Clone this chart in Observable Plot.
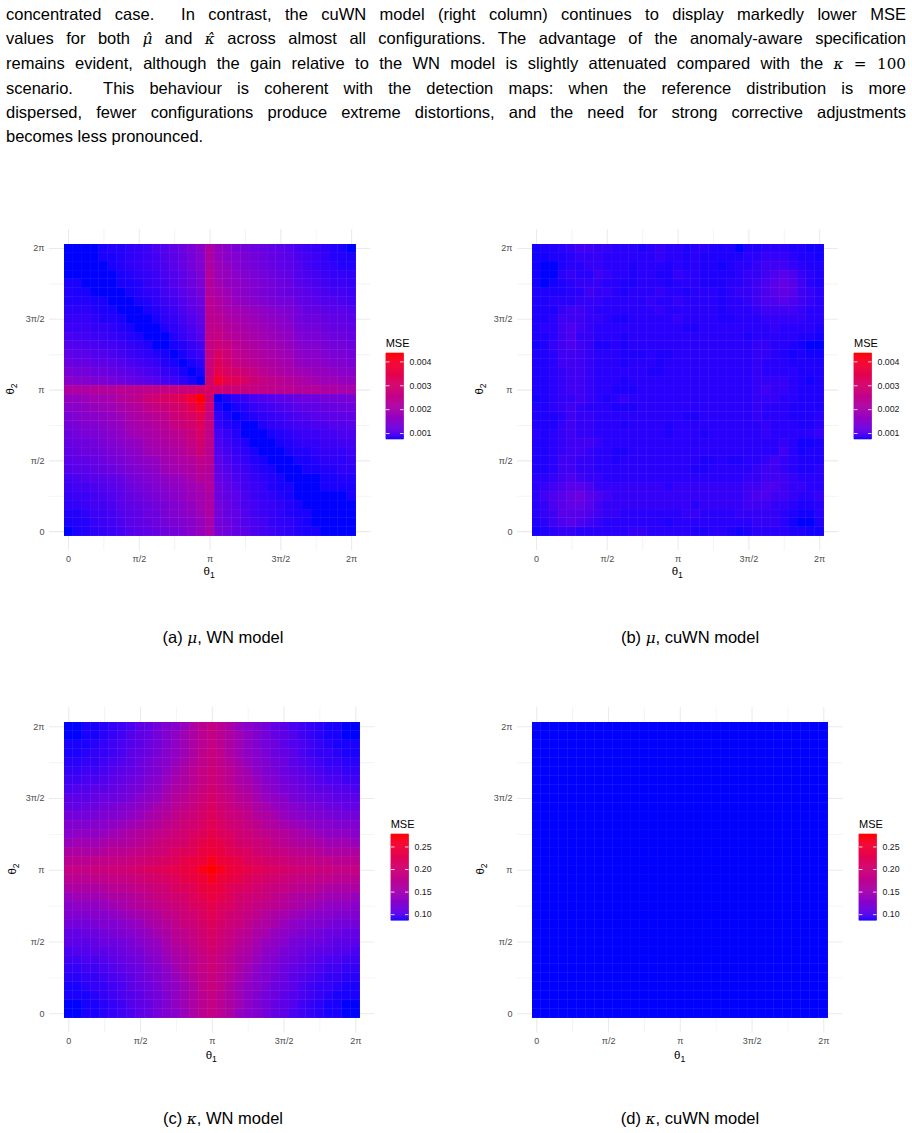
<!DOCTYPE html>
<html>
<head>
<meta charset="utf-8">
<script src="https://cdn.jsdelivr.net/npm/d3@7"></script>
<script src="https://cdn.jsdelivr.net/npm/@observablehq/plot@0.6"></script>
<style>
html,body{margin:0;padding:0;background:#fff;}
#page{position:relative;width:912px;height:1133px;overflow:hidden;font-family:"Liberation Sans",Arial,Helvetica,sans-serif;color:#000;}
#para{position:absolute;left:6px;top:3px;width:900px;font-size:16.5px;line-height:23.9px;}
#para .ln{text-align:justify;text-align-last:justify;}
#para .ln.last{text-align-last:left;}
.m{font-family:"DejaVu Serif","Liberation Serif",serif;font-style:italic;font-size:0.92em;}
.mr{font-family:"DejaVu Serif","Liberation Serif",serif;font-size:0.92em;}
.cap{position:absolute;font-size:16.5px;line-height:1;white-space:nowrap;transform:translateX(-50%);}
.atitle{position:absolute;font-size:11.5px;line-height:1;white-space:nowrap;transform:translate(-50%,-50%);}
.atitle.rot{transform:translate(-50%,-50%) rotate(-90deg);}
.ltitle{position:absolute;font-size:11px;line-height:1;white-space:nowrap;}
#page svg{position:absolute;}
</style>
</head>
<body>
<div id="page">
  <div id="para">
    <div class="ln">concentrated case.&nbsp; In contrast, the cuWN model (right column) continues to display markedly lower MSE</div>
    <div class="ln">values for both <span class="m">μ̂</span> and <span class="m">κ̂</span> across almost all configurations. The advantage of the anomaly-aware specification</div>
    <div class="ln">remains evident, although the gain relative to the WN model is slightly attenuated compared with the <span class="m">κ</span> <span class="mr">= 100</span></div>
    <div class="ln">scenario.&nbsp; This behaviour is coherent with the detection maps: when the reference distribution is more</div>
    <div class="ln">dispersed, fewer configurations produce extreme distortions, and the need for strong corrective adjustments</div>
    <div class="ln last">becomes less pronounced.</div>
  </div>
</div>
<script>
// ---------------- data ----------------
// angular grid (33 x 33 configurations, step 2π/32)
const thetaGrid = d3.range(33).map(k => k * Math.PI / 16);
const tickValues = [0, Math.PI / 2, Math.PI, 3 * Math.PI / 2, 2 * Math.PI];
const tickLabels = ["0", "π/2", "π", "3π/2", "2π"];
const minorValues = [Math.PI / 4, 3 * Math.PI / 4, 5 * Math.PI / 4, 7 * Math.PI / 4];

// colour-bar limits
const muLimits = [0.00075, 0.00435];
const kappaLimits = [0.0866, 0.2776];
const muLegendTicks = [0.001, 0.002, 0.003, 0.004];
const kappaLegendTicks = [0.10, 0.15, 0.20, 0.25];

// codebooks: MSE value of each base-36 code used in the maps below
const muWNCodes = [0.00075, 0.00075, 0.000781, 0.000801, 0.000832, 0.000853, 0.000884, 0.000925,
  0.000966, 0.001007, 0.001059, 0.001110, 0.001161, 0.001223, 0.001295, 0.001367, 0.001449,
  0.001532, 0.001624, 0.001717, 0.001820, 0.001923, 0.002025, 0.002139, 0.002262, 0.002385,
  0.002509, 0.002643, 0.002787, 0.002941, 0.003106, 0.003280, 0.003476, 0.003692, 0.003939, 0.004350];
const muCuWNCodes = [0.00075, 0.000771, 0.000791, 0.000812, 0.000853, 0.000904, 0.000976, 0.001048,
  0.001120, 0.001192];
const kappaWNCodes = [0.0866, 0.0882, 0.0901, 0.0923, 0.0948, 0.0978, 0.1008, 0.1043, 0.1076, 0.1114,
  0.1152, 0.1191, 0.1234, 0.1278, 0.1333, 0.1393, 0.1458, 0.1526, 0.1595, 0.1665, 0.1734, 0.1799,
  0.1859, 0.1914, 0.1968, 0.2023, 0.2077, 0.2140, 0.2206, 0.2271, 0.2342, 0.2413, 0.2484, 0.2571,
  0.2667, 0.2776];
const kappaCuWNCodes = [0.0866];

// MSE maps: one string per row (top row θ2 = 2π first, left cell θ1 = 0), one code per cell
const mseMuWN = [
  "111123345689bdfh"+"n"+"jhfedcba97654320",
  "111122345679aceg"+"n"+"jhgfedcba8765332",
  "111112345678aceg"+"n"+"kigfedcba9765433",
  "1111112345689bdf"+"o"+"kjhgfedcb9876554",
  "2211112235679bdf"+"o"+"ljihgfedca987665",
  "3221111234578ace"+"o"+"mkihgfedcba98776",
  "33322111234679bd"+"p"+"nljihgfeecba9987",
  "44432211123568ac"+"p"+"omlkjihgfeccbaa9",
  "555433211124579b"+"p"+"pnmlkjihgeddcbba",
  "666554321113468a"+"q"+"qonmlkjihfeedccb",
  "8776654321113579"+"q"+"rponmlkjigffeddc",
  "9988776543112357"+"r"+"srponmlkjhggfeed",
  "baa9987654321246"+"r"+"usqponmlkihhgffe",
  "dccbba9876532124"+"s"+"vtrqponmljiihggf",
  "feeddcba98754212"+"s"+"wutsrponmlkjjihh",
  "hggffedcba976421"+"t"+"ywvusrqponmlkkjj",
  "nnnooopppqqrrsst"+"u"+"tssrrqqppooonnmm",
  "jjkllmopqstuvwyz"+"t"+"1245789abcddeeef",
  "hhijkkmnoqrstuwy"+"s"+"212356789abbccdd",
  "fghhijkmnopqstuw"+"r"+"42123456789aabbb",
  "efgghijlmnoprstv"+"r"+"532113456778899a",
  "deffghiklmnopqsu"+"q"+"7531112345667788",
  "cddefghijlmnoprt"+"q"+"8643111234556677",
  "bcddefghiklmnoqs"+"p"+"9754211123345556",
  "abbcdefghijlmnoq"+"p"+"a865321112234445",
  "9aabcdefghiklmnp"+"o"+"b976432111223344",
  "789aabcefghijkmo"+"o"+"ca87543211112233",
  "67789abdefghijkm"+"o"+"db97653221112222",
  "566789acdefghikl"+"n"+"dba8654321111112",
  "456778abcdefghjl"+"n"+"eca8765432111111",
  "3346679abddfghik"+"n"+"ecb9765432211111",
  "2335678abcdefghj"+"m"+"edb9875443211111",
  "02345679abcdefhj"+"m"+"fdba876543221111"
];

const mseMuCuWN = [
  "12234554433"+"32343323322"+"20223332211",
  "11223444333"+"33343323222"+"22334443221",
  "10023344333"+"23332323221"+"23345554322",
  "10034335433"+"23322433222"+"23445676432",
  "10123444332"+"23332333222"+"33456787532",
  "22223354432"+"33343323332"+"34456787543",
  "22333444333"+"33433433332"+"33456676543",
  "22245543333"+"33343333332"+"33345555433",
  "22355544322"+"33333433332"+"23334444433",
  "23356543333"+"33333322333"+"33333433332",
  "22356443332"+"33333333333"+"33233333221",
  "12456542232"+"33333333333"+"33344332100",
  "22355543332"+"22322333333"+"33344321211",
  "22355543332"+"33323333333"+"33343332222",
  "22345543333"+"33223333333"+"33343333222",
  "22345543332"+"33333333333"+"33344443212",
  "22345543322"+"23333333333"+"33345443222",
  "12344543234"+"33333333333"+"33344433222",
  "22345433322"+"23333333333"+"33343332222",
  "22235443333"+"33333322333"+"33343332223",
  "22245443332"+"33332333333"+"33334333223",
  "32345443333"+"33332333233"+"33334333334",
  "22345554333"+"33333333333"+"33333343112",
  "22345543322"+"33333333333"+"33333353122",
  "22355443323"+"33333333223"+"22334543222",
  "22355443333"+"33333332233"+"33345543223",
  "33456544333"+"33333333333"+"33445554333",
  "34567764444"+"44443444444"+"44556654433",
  "35678976544"+"44444444444"+"44566554334",
  "34678875444"+"44444443444"+"44555443223",
  "34577765443"+"33333344333"+"34444432113",
  "23567654333"+"33332333333"+"33344431002",
  "12344333333"+"44333332233"+"21233332211"
];

const mseKappaWN = [
  "0011234578acdfikm"+"kifdca8754321100",
  "0011234678acegikm"+"kigeca8764321100",
  "1112345679acegikm"+"kigeca9765432111",
  "1123345789bdegiln"+"ligedb9875433211",
  "223345679acdfhjln"+"ljhfdca976543322",
  "334456789bcegikmo"+"mkigecb987654433",
  "44556789acdfhikmo"+"mkihfdca98765544",
  "5667789abdegijlnp"+"nljigedba9877665",
  "777899abdefhjkmoq"+"omkjhfedba998777",
  "8899abcdefhiklnpr"+"pnlkihfedcba9988",
  "aaabccdefhijlnoqs"+"qonljihfedccbaaa",
  "cccddefghijlmoprt"+"rpomljihgfeddccc",
  "deeefghijklmoprsu"+"srpomlkjihgfeeed",
  "fggghiijklnopqsuv"+"usqponlkjiihgggf",
  "iiiijkklmnoprstvw"+"vtsrponmlkkjiiii",
  "kkkllmmnopqrsuvwy"+"wvusrqponmmllkkk",
  "mmmnnoopqrstuvwyz"+"ywvutsrqpoonnmmm",
  "kkkllmmnopqrsuvwy"+"wvusrqponmmllkkk",
  "iiiijkklmnoprstvw"+"vtsrponmlkkjiiii",
  "fggghiijklnopqsuv"+"usqponlkjiihgggf",
  "deeefghijklmoprsu"+"srpomlkjihgfeeed",
  "cccddefghijlmoprt"+"rpomljihgfeddccc",
  "aaabccdefhijlnoqs"+"qonljihfedccbaaa",
  "8899abcdefhiklnpr"+"pnlkihfedcba9988",
  "777899abdefhjkmoq"+"omkjhfedba998777",
  "5667789abdegijlnp"+"nljigedba9877665",
  "44556789acdfhikmo"+"mkihfdca98765544",
  "334456789bcegikmo"+"mkigecb987654433",
  "223345679acdfhjln"+"ljhfdca976543322",
  "1123345789bdegiln"+"ligedb9875433211",
  "1112345679acegikm"+"kigeca9765432111",
  "0011234678acegikm"+"kigeca8764321100",
  "0011234578acdfikm"+"kifdca8754321100"
];

const mseKappaCuWN = [
  "00000000000"+"00000000000"+"00000000000",
  "00000000000"+"00000000000"+"00000000000",
  "00000000000"+"00000000000"+"00000000000",
  "00000000000"+"00000000000"+"00000000000",
  "00000000000"+"00000000000"+"00000000000",
  "00000000000"+"00000000000"+"00000000000",
  "00000000000"+"00000000000"+"00000000000",
  "00000000000"+"00000000000"+"00000000000",
  "00000000000"+"00000000000"+"00000000000",
  "00000000000"+"00000000000"+"00000000000",
  "00000000000"+"00000000000"+"00000000000",
  "00000000000"+"00000000000"+"00000000000",
  "00000000000"+"00000000000"+"00000000000",
  "00000000000"+"00000000000"+"00000000000",
  "00000000000"+"00000000000"+"00000000000",
  "00000000000"+"00000000000"+"00000000000",
  "00000000000"+"00000000000"+"00000000000",
  "00000000000"+"00000000000"+"00000000000",
  "00000000000"+"00000000000"+"00000000000",
  "00000000000"+"00000000000"+"00000000000",
  "00000000000"+"00000000000"+"00000000000",
  "00000000000"+"00000000000"+"00000000000",
  "00000000000"+"00000000000"+"00000000000",
  "00000000000"+"00000000000"+"00000000000",
  "00000000000"+"00000000000"+"00000000000",
  "00000000000"+"00000000000"+"00000000000",
  "00000000000"+"00000000000"+"00000000000",
  "00000000000"+"00000000000"+"00000000000",
  "00000000000"+"00000000000"+"00000000000",
  "00000000000"+"00000000000"+"00000000000",
  "00000000000"+"00000000000"+"00000000000",
  "00000000000"+"00000000000"+"00000000000",
  "00000000000"+"00000000000"+"00000000000"
];

const captions = [
  {html: '(a) <span class="m">μ</span>, WN model', x: 223, y: 629},
  {html: '(b) <span class="m">μ</span>, cuWN model', x: 690, y: 629},
  {html: '(c) <span class="m">κ</span>, WN model', x: 223, y: 1110},
  {html: '(d) <span class="m">κ</span>, cuWN model', x: 690, y: 1110}
];

// ---------------- helpers ----------------
function decode(rows, codes) {
  const out = [];
  rows.forEach((row, r) => {
    for (let i = 0; i < row.length; i++) {
      out.push({t1: thetaGrid[i], t2: thetaGrid[32 - r], mse: codes[parseInt(row[i], 36)]});
    }
  });
  return out;
}

const page = document.getElementById("page");
const half = Math.PI / 32;
const fmtTick = d => tickLabels[tickValues.indexOf(d)];

function colorScale(lim) {
  return {type: "linear", domain: lim, range: ["blue", "red"], interpolate: d3.interpolateLab, clamp: true};
}

function heatmap(p) {
  const data = decode(p.rows, p.codes);
  const ext = [-half, 2 * Math.PI + half];
  const span = ext[1] - ext[0];
  const dom = [ext[0] - 0.05 * span, ext[1] + 0.05 * span];
  const P = p.T * 1.1;
  const mL = 42, mR = 4, mT = 4, mB = 24;
  const svg = Plot.plot({
    width: mL + P + mR,
    height: mT + P + mB,
    marginLeft: mL, marginRight: mR, marginTop: mT, marginBottom: mB,
    x: {domain: dom},
    y: {domain: dom},
    color: colorScale(p.lim),
    style: {background: "transparent", overflow: "visible", fontFamily: "Liberation Sans, Arial, sans-serif", fontSize: "9px", color: "#4D4D4D"},
    marks: [
      Plot.gridX(minorValues, {stroke: "#EDEDED", strokeOpacity: 1, strokeWidth: 0.6}),
      Plot.gridY(minorValues, {stroke: "#EDEDED", strokeOpacity: 1, strokeWidth: 0.6}),
      Plot.gridX(tickValues, {stroke: "#EBEBEB", strokeOpacity: 1, strokeWidth: 1.1}),
      Plot.gridY(tickValues, {stroke: "#EBEBEB", strokeOpacity: 1, strokeWidth: 1.1}),
      Plot.rect(data, {
        x1: d => d.t1 - half, x2: d => d.t1 + half,
        y1: d => d.t2 - half, y2: d => d.t2 + half,
        fill: "mse", stroke: "white", strokeOpacity: 0.07, strokeWidth: 0.5,
        shapeRendering: "crispEdges"
      }),
      Plot.axisX(tickValues, {tickSize: 0, tickPadding: 5, tickFormat: fmtTick, label: null}),
      Plot.axisY(tickValues, {tickSize: 0, tickPadding: 5, tickFormat: fmtTick, label: null})
    ]
  });
  svg.style.left = (p.tileX0 - 0.05 * p.T - mL) + "px";
  svg.style.top = (p.tileY0 - 0.05 * p.T - mT) + "px";
  page.appendChild(svg);

  // axis titles
  const t1 = document.createElement("div");
  t1.className = "atitle";
  t1.innerHTML = "θ<sub style='font-size:0.75em'>1</sub>";
  t1.style.left = p.t1x + "px"; t1.style.top = p.t1y + "px";
  page.appendChild(t1);
  const t2 = document.createElement("div");
  t2.className = "atitle rot";
  t2.innerHTML = "θ<sub style='font-size:0.75em'>2</sub>";
  t2.style.left = p.t2x + "px"; t2.style.top = p.t2y + "px";
  page.appendChild(t2);

  // colour bar legend
  const L = p.legend;
  const n = 90;
  const step = (p.lim[1] - p.lim[0]) / n;
  const ramp = d3.range(n).map(i => p.lim[0] + (i + 0.5) * step);
  const barW = 17.5, lR = 40, lT = 2, lB = 2;
  const leg = Plot.plot({
    width: barW + lR, height: L.h + lT + lB,
    marginLeft: 0, marginRight: lR, marginTop: lT, marginBottom: lB,
    x: {domain: [0, 1], axis: null},
    y: {domain: p.lim},
    color: colorScale(p.lim),
    style: {background: "transparent", overflow: "visible", fontFamily: "Liberation Sans, Arial, sans-serif", fontSize: "8.8px", color: "#1A1A1A"},
    marks: [
      Plot.rect(ramp, {x1: 0, x2: 1, y1: d => d - step / 2, y2: d => d + step / 2, fill: d => d, stroke: d => d, strokeWidth: 0.6}),
      Plot.ruleY(L.ticks, {x1: 0, x2: 0.2, stroke: "white", strokeWidth: 0.8}),
      Plot.ruleY(L.ticks, {x1: 0.8, x2: 1, stroke: "white", strokeWidth: 0.8}),
      Plot.axisY(L.ticks, {anchor: "right", tickSize: 0, tickPadding: 5.5, tickFormat: L.fmt, label: null})
    ]
  });
  leg.style.left = L.x + "px";
  leg.style.top = (L.top - lT) + "px";
  page.appendChild(leg);
  const lt = document.createElement("div");
  lt.className = "ltitle";
  lt.textContent = "MSE";
  lt.style.left = L.x + "px"; lt.style.top = L.titleTop + "px";
  page.appendChild(lt);
}

const panels = [
  {rows: mseMuWN, codes: muWNCodes, lim: muLimits, tileX0: 63.2, tileY0: 243.2, T: 292, t1x: 209.2, t1y: 573, t2x: 12, t2y: 389,
   legend: {x: 385.7, top: 353.3, h: 86, ticks: muLegendTicks, fmt: d3.format(".3f"), titleTop: 338}},
  {rows: mseMuCuWN, codes: muCuWNCodes, lim: muLimits, tileX0: 531.3, tileY0: 243.2, T: 292, t1x: 677.3, t1y: 573, t2x: 481, t2y: 389,
   legend: {x: 854, top: 353.3, h: 86, ticks: muLegendTicks, fmt: d3.format(".3f"), titleTop: 338}},
  {rows: mseKappaWN, codes: kappaWNCodes, lim: kappaLimits, tileX0: 63.3, tileY0: 721.8, T: 296, t1x: 211.3, t1y: 1056.7, t2x: 14, t2y: 869,
   legend: {x: 390.7, top: 834.3, h: 86.2, ticks: kappaLegendTicks, fmt: d3.format(".2f"), titleTop: 818.5}},
  {rows: mseKappaCuWN, codes: kappaCuWNCodes, lim: kappaLimits, tileX0: 531.7, tileY0: 721.8, T: 296, t1x: 679.7, t1y: 1056.7, t2x: 482, t2y: 869,
   legend: {x: 859, top: 834.3, h: 86.2, ticks: kappaLegendTicks, fmt: d3.format(".2f"), titleTop: 818.5}}
];

panels.forEach(p => heatmap(p));

captions.forEach(c => {
  const d = document.createElement("div");
  d.className = "cap";
  d.innerHTML = c.html;
  d.style.left = c.x + "px"; d.style.top = c.y + "px";
  page.appendChild(d);
});
</script>
</body>
</html>
